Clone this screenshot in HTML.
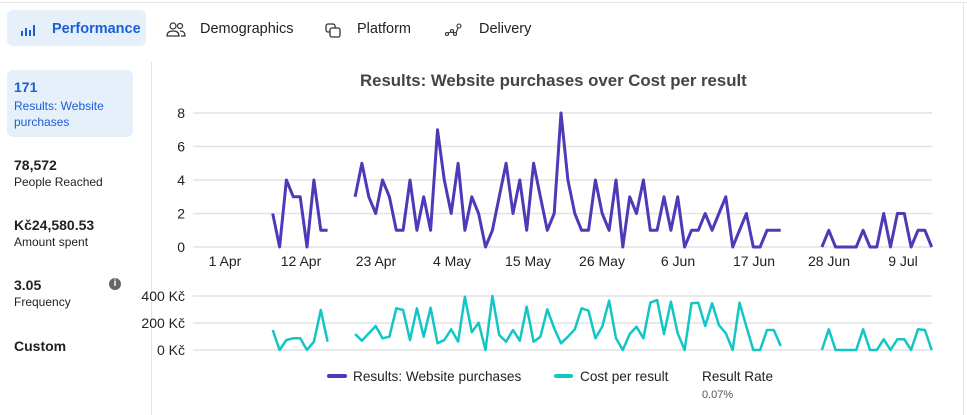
<!DOCTYPE html>
<html><head><meta charset="utf-8"><style>
body{margin:0;width:967px;height:415px;overflow:hidden;background:#fff;font-family:"Liberation Sans",sans-serif;position:relative}
.a{position:absolute;white-space:nowrap}
</style></head><body>
<div class="a" style="left:0;top:2px;width:967px;height:1px;background:#e4e4e4"></div>
<div class="a" style="left:963px;top:2px;width:1px;height:413px;background:#e4e4e4"></div>
<div class="a" style="left:7px;top:10px;width:139px;height:36px;background:#e6f0fb;border-radius:6px"></div>
<svg class="a" style="left:20px;top:22px" width="16" height="16"><rect x="1" y="9" width="2" height="5" fill="#1a5ed8"/><rect x="5" y="6" width="2" height="8" fill="#1a5ed8"/><rect x="9" y="8" width="2" height="6" fill="#1a5ed8"/><rect x="13" y="3" width="2" height="11" fill="#1a5ed8"/></svg>
<div class="a" style="left:52px;top:21px;font-size:14.5px;font-weight:bold;color:#1a5ed8">Performance</div>
<svg class="a" style="left:166px;top:21px" width="20" height="18" fill="none" stroke="#333" stroke-width="1.2"><circle cx="7" cy="5" r="3"/><path d="M1 15c0-4 3-5 6-5s6 1 6 5z"/><circle cx="14" cy="5" r="2.5"/><path d="M14 10c3 0 5 1 5 5h-4"/></svg>
<div class="a" style="left:200px;top:21px;font-size:14.5px;color:#222">Demographics</div>
<svg class="a" style="left:324px;top:22px" width="18" height="18" fill="none" stroke="#333" stroke-width="1.3"><rect x="2" y="2" width="9" height="8" rx="2"/><rect x="6" y="6" width="10" height="9" rx="2" fill="#fff"/></svg>
<div class="a" style="left:357px;top:21px;font-size:14.5px;color:#222">Platform</div>
<svg class="a" style="left:444px;top:22px" width="18" height="16" fill="none" stroke="#333" stroke-width="1.1"><circle cx="3" cy="12" r="1.5"/><circle cx="8" cy="9" r="1.5"/><circle cx="11" cy="12" r="1.5"/><circle cx="15" cy="4" r="2"/><path d="M4 11l3-1M9 10l1 1M12 11l2-5"/></svg>
<div class="a" style="left:479px;top:21px;font-size:14.5px;color:#222">Delivery</div>

<div class="a" style="left:7px;top:70px;width:126px;height:67px;background:#e6f0fb;border-radius:6px"></div>
<div class="a" style="left:14px;top:79px;font-size:14px;font-weight:bold;color:#1a5ed8">171</div>
<div class="a" style="left:14px;top:98px;font-size:12px;line-height:16px;color:#1a5ed8">Results: Website<br>purchases</div>
<div class="a" style="left:14px;top:157px;font-size:14px;font-weight:bold;color:#222">78,572</div>
<div class="a" style="left:14px;top:175px;font-size:12px;color:#222">People Reached</div>
<div class="a" style="left:14px;top:217px;font-size:14px;font-weight:bold;color:#222">Kč24,580.53</div>
<div class="a" style="left:14px;top:235px;font-size:12px;color:#222">Amount spent</div>
<div class="a" style="left:14px;top:277px;font-size:14px;font-weight:bold;color:#222">3.05</div>
<div class="a" style="left:14px;top:295px;font-size:12px;color:#222">Frequency</div>
<div class="a" style="left:109px;top:278px;width:12px;height:12px;border-radius:50%;background:#666;color:#fff;font-size:10px;font-weight:bold;text-align:center;line-height:12px">i</div>
<div class="a" style="left:14px;top:338px;font-size:14px;font-weight:bold;color:#222">Custom</div>
<div class="a" style="left:151px;top:62px;width:1px;height:353px;background:#e4e4e4"></div>

<div class="a" style="left:360px;top:71px;font-size:16.8px;font-weight:bold;color:#444">Results: Website purchases over Cost per result</div>

<svg class="a" style="left:0;top:0" width="967" height="415" id="ch">
<g stroke="#e2e2e2" stroke-width="1.5">
<line x1="193" x2="932" y1="113" y2="113"/><line x1="193" x2="932" y1="146.5" y2="146.5"/><line x1="193" x2="932" y1="180" y2="180"/><line x1="193" x2="932" y1="213.5" y2="213.5"/><line x1="193" x2="932" y1="247" y2="247"/>
<line x1="193" x2="932" y1="296" y2="296"/><line x1="193" x2="932" y1="323" y2="323"/><line x1="193" x2="932" y1="350" y2="350"/>
</g>
<g font-size="14" fill="#222" text-anchor="end" font-family="Liberation Sans,sans-serif">
<text x="185" y="118">8</text><text x="185" y="151.5">6</text><text x="185" y="185">4</text><text x="185" y="218.5">2</text><text x="185" y="252">0</text>
<text x="185" y="301">400 Kč</text><text x="185" y="328">200 Kč</text><text x="185" y="355">0 Kč</text>
</g>
<g font-size="14" fill="#222" text-anchor="middle" font-family="Liberation Sans,sans-serif">
<text x="225" y="266">1 Apr</text><text x="301" y="266">12 Apr</text><text x="376" y="266">23 Apr</text><text x="452" y="266">4 May</text><text x="528" y="266">15 May</text><text x="602" y="266">26 May</text><text x="678" y="266">6 Jun</text><text x="754" y="266">17 Jun</text><text x="829" y="266">28 Jun</text><text x="903" y="266">9 Jul</text>
</g>
<g id="lines"></g>
<line x1="329" x2="345" y1="376" y2="376" stroke="#5038b8" stroke-width="4" stroke-linecap="round"/>
<line x1="556" x2="571" y1="376" y2="376" stroke="#12c6c4" stroke-width="4" stroke-linecap="round"/>
<g font-size="13.6" fill="#222" font-family="Liberation Sans,sans-serif">
<text x="353" y="381">Results: Website purchases</text><text x="580" y="381">Cost per result</text><text x="702" y="381">Result Rate</text>
<text x="702" y="398" font-size="11" fill="#555">0.07%</text></g>
</svg>
<script>
var step=6.865,x0=272.7;
var P=[[0,[2,0,4,3,3,0,4,1,1]],[12,[3,5,3,2,4,3,1,1,4,1,3,1,7,4,2,5,1,3,2,0,1,3,5,2,4,1,5,3,1,2,8,4,2,1,1,4,2,1,4,0,3,2,4,1,1,3,1,3,0,1,1,2,1,2,3,0,1,2,0,0,1,1,1]],[80,[0,1,0,0,0,0,1,0,0,2,0,2,2,0,1,1,0]]];
var C=[[0,[150,210,180,175,175,210,185,90,185]],[12,[162,182,160,138,175,170,85,90,180,85,170,83,190,180,148,185,50,157,128,210,48,165,185,150,182,80,185,170,88,145,190,170,148,85,92,175,140,62,175,210,162,140,175,68,60,162,65,160,210,70,68,138,70,135,160,210,68,140,210,210,150,150,198]],[80,[210,148,210,210,210,210,148,210,210,178,210,178,178,210,148,150,210]]];
var g=document.getElementById('lines'),s='';
P.forEach(function(p){s+='<polyline fill="none" stroke="#5038b8" stroke-width="3" stroke-linejoin="round" points="'+p[1].map(function(v,i){return (x0+(p[0]+i)*step).toFixed(1)+','+(247-v*16.75).toFixed(1)}).join(' ')+'"/>';});
C.forEach(function(p){s+='<polyline fill="none" stroke="#12c6c4" stroke-width="2.5" stroke-linejoin="round" points="'+p[1].map(function(v,i){return (x0+(p[0]+i)*step).toFixed(1)+','+(280+v/3).toFixed(1)}).join(' ')+'"/>';});
g.innerHTML=s;
</script>
</body></html>
